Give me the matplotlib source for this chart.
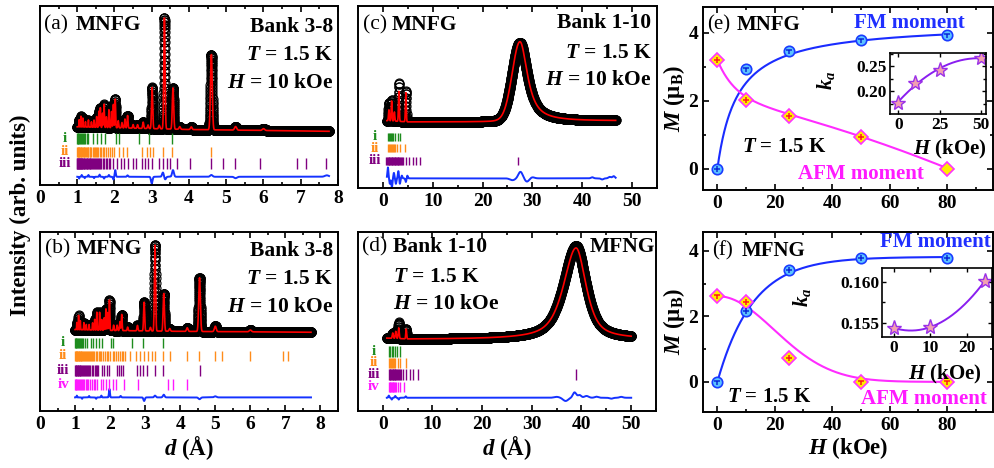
import numpy as np
import matplotlib
matplotlib.use("Agg")
import matplotlib.pyplot as plt
from matplotlib.path import Path
from matplotlib.ticker import MultipleLocator, FormatStrFormatter

plt.rcParams['font.family'] = ['Liberation Serif', 'DejaVu Serif']
plt.rcParams['font.weight'] = 'bold'
plt.rcParams['axes.labelweight'] = 'bold'
plt.rcParams['mathtext.fontset'] = 'custom'
plt.rcParams['mathtext.it'] = 'Liberation Serif:italic:bold'
plt.rcParams['mathtext.rm'] = 'Liberation Serif:bold'
plt.rcParams['mathtext.bf'] = 'Liberation Serif:bold'

# ---------------- diffraction data ----------------
# panel (a) MNFG, bank 3-8
a_bg_d = [1.0, 2.0, 4.0, 7.75]
a_bg_y = [32.5, 32.0, 31.0, 30.0]
a_peak_d = [1.05, 1.10, 1.15, 1.22, 1.30, 1.38, 1.45, 1.52, 1.58, 1.62, 1.68, 1.72, 1.78, 1.85,
            1.92, 1.97, 2.02, 2.10, 2.20, 2.28, 2.35, 2.50, 2.62, 2.77, 2.90, 3.01, 3.20, 3.34,
            3.57, 3.75, 4.06, 4.60, 5.25, 6.00]
a_peak_h = [4, 6, 5, 3, 4, 3, 4, 6, 9, 11, 8, 13, 6, 10, 9, 13, 16, 4, 3, 5, 7, 2, 2, 3.5, 2,
            23, 2, 62, 23, 1.5, 1.5, 42, 2, 1]
a_diff_d = [1.05, 1.12, 1.20, 1.30, 1.45, 1.60, 1.72, 1.85, 1.97, 2.02, 2.35, 3.00, 3.30, 3.36,
            3.57, 4.60, 5.25, 7.70]
a_diff_a = [-1, 1, -0.8, 1, -0.8, 1.2, -1, 1, -1.5, 3.7, 0.8, -3.7, 2.4, -1.5, 3.7, 1, -0.8, 0.8]
a_tick_i = [0.99, 1.01, 1.03, 1.05, 1.07, 1.09, 1.12, 1.15, 1.18, 1.21, 1.25, 1.28, 1.43, 1.52,
            1.63, 1.75, 2.04, 2.13, 2.67, 2.93, 3.54]
a_tick_ii = [1.00, 1.02, 1.03, 1.05, 1.06, 1.08, 1.10, 1.11, 1.13, 1.15, 1.17, 1.19, 1.21, 1.23,
             1.25, 1.28, 1.30, 1.33, 1.35, 1.38, 1.41, 1.44, 1.47, 1.50, 1.53, 1.57, 1.60, 1.64,
             1.68, 1.72, 1.77, 1.82, 1.87, 1.93, 1.99, 2.13, 2.23, 2.33, 2.73, 2.88, 2.96, 3.04,
             3.31, 3.55, 4.59]
a_tick_iii = [0.99, 1.00, 1.02, 1.03, 1.04, 1.06, 1.07, 1.08, 1.10, 1.11, 1.13, 1.14, 1.16, 1.18,
              1.19, 1.21, 1.23, 1.25, 1.27, 1.29, 1.31, 1.33, 1.35, 1.37, 1.40, 1.42, 1.45, 1.47,
              1.50, 1.53, 1.56, 1.59, 1.62, 1.65, 1.69, 1.72, 1.76, 1.80, 1.84, 1.88, 1.97, 2.06,
              2.17, 2.26, 2.37, 2.50, 2.59, 2.73, 2.82, 2.91, 3.00, 3.20, 3.29, 3.40, 3.49, 3.67,
              4.04, 4.59, 4.92, 5.23, 5.91, 6.89, 7.14, 7.69]

# panel (b) MFNG, bank 3-8
b_bg_d = [1.0, 2.0, 4.0, 7.72]
b_bg_y = [45.5, 45.0, 44.5, 44.0]
b_peak_d = [1.05, 1.10, 1.15, 1.25, 1.32, 1.40, 1.50, 1.56, 1.62, 1.70, 1.76, 1.83, 1.88, 1.93,
            1.98, 2.10, 2.20, 2.28, 2.33, 2.50, 2.78, 2.97, 3.15, 3.28, 3.53, 3.70, 4.20, 4.55,
            5.00, 6.00]
b_peak_h = [4, 8, 5, 4, 3, 3, 4, 6, 10, 10, 6, 7, 12, 10, 17, 3, 3, 5, 9, 2, 3, 16, 2, 48, 21,
            1.5, 2, 30, 3, 1]
b_diff_d = [1.05, 1.20, 1.40, 1.60, 1.75, 1.98, 2.30, 2.97, 3.28, 3.53, 4.55, 5.00]
b_diff_a = [1, -0.8, 0.8, -0.8, 1, 4.7, 0.8, -2, 1, 1.5, -1, 0.6]
b_tick_i = [1.00, 1.02, 1.04, 1.06, 1.08, 1.10, 1.13, 1.16, 1.20, 1.24, 1.28, 1.33, 1.45, 1.52,
            1.60, 1.69, 1.76, 2.02, 2.09, 2.63, 2.93, 3.52]
b_tick_ii = [1.00, 1.02, 1.03, 1.05, 1.06, 1.08, 1.10, 1.12, 1.14, 1.16, 1.18, 1.20, 1.22, 1.25,
             1.27, 1.30, 1.33, 1.36, 1.39, 1.42, 1.45, 1.48, 1.52, 1.55, 1.59, 1.63, 1.67, 1.71,
             1.75, 1.80, 1.85, 1.90, 1.95, 2.00, 2.07, 2.12, 2.17, 2.22, 2.28, 2.33, 2.38, 2.42,
             2.57, 2.74, 2.85, 2.97, 3.09, 3.19, 3.28, 3.52, 3.71, 4.18, 4.54, 4.99, 5.18, 5.99,
             6.94, 7.08]
b_tick_iii = [1.00, 1.02, 1.03, 1.05, 1.07, 1.09, 1.11, 1.13, 1.15, 1.17, 1.20, 1.22, 1.25, 1.28,
              1.31, 1.34, 1.37, 1.40, 1.44, 1.48, 1.52, 1.56, 1.60, 1.62, 1.66, 1.76, 1.83, 1.90,
              1.98, 2.19, 2.25, 2.32, 2.38, 2.76, 2.86, 2.95, 3.04, 3.28, 3.52, 4.56]
b_tick_iv = [1.00, 1.02, 1.04, 1.06, 1.08, 1.10, 1.13, 1.16, 1.19, 1.22, 1.26, 1.30, 1.34, 1.38,
             1.43, 1.48, 1.53, 1.58, 1.62, 1.73, 1.81, 1.88, 1.98, 2.07, 2.17, 2.40, 2.80, 3.66,
             3.80, 4.20]

# panel (c) MNFG, bank 1-10
c_bg_d = [0.8, 5.0, 24.0, 35.0, 46.7]
c_bg_y = [37.0, 36.3, 36.3, 36.6, 36.8]
c_peak_d = [1.20, 1.75, 2.30, 3.20, 4.60, 27.5]
c_obs_h = [10, 11.5, 5, 21, 17, 43.5]
c_calc_h = [6, 11, 5, 16.5, 16, 44]
c_peak_wl = [0.10, 0.10, 0.10, 0.10, 0.10, 1.85]
c_peak_wr = [0.10, 0.10, 0.10, 0.10, 0.10, 1.80]
c_peak_el = [0.0, 0.0, 0.0, 0.0, 0.0, 0.1]
c_peak_er = [0.0, 0.0, 0.0, 0.0, 0.0, 0.9]
c_diff_d = [1.0, 1.4, 1.8, 2.2, 2.6, 3.1, 3.4, 3.8, 4.6, 4.9, 26.0, 27.6, 28.9, 30.0, 42.0, 44.0,
            45.5, 46.3]
c_diff_a = [6, -3, -5, 3, -3, 4, -3, 1.5, -2, 1.5, -1, 3.6, -1.8, 0.6, 0.6, -0.6, 0.8, 1.2]
c_diff_w = [0.12, 0.12, 0.12, 0.12, 0.12, 0.12, 0.12, 0.12, 0.12, 0.12, 0.6, 0.5, 0.5, 0.5, 0.3,
            0.3, 0.3, 0.3]
c_tick_i = [1.0, 1.2, 1.4, 1.6, 1.8, 2.0, 2.5, 3.0, 3.5]
c_tick_ii = [1.0, 1.2, 1.4, 1.6, 1.8, 2.0, 2.2, 2.4, 2.9, 3.4, 4.5]
c_tick_iii = [0.7, 0.85, 1.0, 1.15, 1.3, 1.45, 1.6, 1.75, 1.9, 2.05, 2.2, 2.35, 2.5, 2.65, 2.8,
              2.95, 3.1, 3.25, 3.4, 3.6, 3.8, 4.0, 4.63, 5.3, 6.0, 6.6, 7.4, 27.2]

# panel (d) MFNG, bank 1-10
d_bg_d = [0.8, 5.0, 30.0, 50.0]
d_bg_y = [40.5, 40.0, 40.0, 40.2]
d_peak_d = [2.0, 2.6, 3.2, 4.7, 38.9]
d_obs_h = [3, 4, 9, 5.5, 52]
d_calc_h = [3, 4, 6, 5.5, 51]
d_peak_wl = [0.12, 0.12, 0.12, 0.10, 3.0]
d_peak_wr = [0.12, 0.12, 0.12, 0.10, 2.4]
d_peak_el = [0.0, 0.0, 0.0, 0.0, 0.7]
d_peak_er = [0.0, 0.0, 0.0, 0.0, 0.7]
d_diff_d = [1.2, 1.8, 2.5, 3.2, 4.6, 35.0, 36.8, 38.6, 39.6, 41.0, 43.0, 46.0, 48.0]
d_diff_a = [1.2, -1, 1, -1, 0.8, 0.5, -1.8, 3, 1.5, 1, 0.6, -0.5, 0.5]
d_diff_w = [0.12, 0.12, 0.12, 0.12, 0.12, 0.6, 0.6, 0.4, 0.4, 0.5, 0.4, 0.4, 0.4]
d_tick_i = [1.2, 1.5, 1.8, 2.1, 2.5, 2.9, 3.4]
d_tick_ii = [1.2, 1.4, 1.6, 1.8, 2.0, 2.2, 2.5, 3.0, 3.4, 4.6]
d_tick_iii = [1.2, 1.35, 1.5, 1.65, 1.8, 1.95, 2.1, 2.25, 2.4, 2.55, 2.7, 2.85, 3.0, 3.2, 3.4, 3.7,
              4.0, 4.7, 5.4, 6.0, 7.0, 38.8]
d_tick_iv = [1.2, 1.35, 1.5, 1.65, 1.8, 1.95, 2.1, 2.3, 2.5, 2.7, 3.0, 3.5, 4.2]

# ---------------- magnetic moments ----------------
H_field = [0, 10, 25, 50, 80]
e_FM = [0.0, 2.94, 3.48, 3.79, 3.94]
e_AFM = [3.21, 2.03, 1.56, 0.95, 0.0]
f_FM = [0.0, 2.16, 3.42, 3.80, 3.80]
f_AFM = [2.61, 2.45, 0.73, 0.0, 0.0]
e_ins_H = [0, 10, 25, 50]
e_ka = [0.176, 0.216, 0.242, 0.266]
f_ins_H = [0, 10, 25]
f_ka = [0.1544, 0.1545, 0.1601]

# fitted-curve parameters
e_FM_fit = dict(Ms=4.3, h0=7.0)                       # M = Ms*H/(H+h0)
e_AFM_fit = dict(a=2.107, b=-0.0182, q=-9.82e-5, c=1.093, tau=6.0)
f_FM_fit = dict(Ms=3.82, h0=12.3)                     # M = Ms*(1-exp(-H/h0))
f_AFM_fit = dict(A=2.62, h0=28.0)                     # M = A*exp(-(H/h0)^2)

# ---------------- helpers ----------------
W, Hpx = 995, 468
fig = plt.figure(figsize=(W / 100, Hpx / 100), dpi=100)

TXT = 15.5      # annotation size in diffraction panels
MTXT = 15       # annotation size in moment panels
LAB = 16.5      # axis label size
TICK = 14       # tick label size


def rect(x0, y0, x1, y1):
    return [x0 / W, 1 - y1 / Hpx, (x1 - x0) / W, (y1 - y0) / Hpx]


def profile(x, bg_d, bg_y, pos, h, wl, wr, el, er):
    y = np.interp(x, bg_d, bg_y)
    for p, hh, a, b, ea, eb in zip(pos, h, wl, wr, el, er):
        dx = x - p
        w = np.where(dx < 0, a, b)
        eta = np.where(dx < 0, ea, eb)
        t = (dx / w) ** 2
        y = y + hh * ((1 - eta) * np.exp(-np.log(2) * t) + eta / (1 + t))
    return y


def diffcurve(x, base, pos, amp, wid):
    y = np.full_like(x, base)
    for p, a, w in zip(pos, amp, wid):
        y = y + a * np.exp(-np.log(2) * ((x - p) / w) ** 2)
    return y


GREEN, ORANGE, PURPLE, MAGENTA = '#1e8c1e', '#ff8c1a', '#800080', '#ff1aff'
BLUE = '#1432ff'


def style_diffr(ax, xlim, major, minor):
    ax.set_xlim(*xlim)
    ax.set_ylim(0, 100)
    ax.set_yticks([])
    ax.xaxis.set_major_locator(MultipleLocator(major))
    ax.xaxis.set_minor_locator(MultipleLocator(minor))
    ax.tick_params(axis='x', which='both', direction='in', top=True, labelsize=TICK, width=1.2)
    ax.tick_params(axis='x', which='major', length=4)
    ax.tick_params(axis='x', which='minor', length=2.5)
    for s in ax.spines.values():
        s.set_linewidth(1.4)


def draw_rows(ax, rows, xlab):
    for ticks, (y0, y1), col, lab in rows:
        ax.vlines(ticks, y0, y1, color=col, lw=1.0)
        ax.text(xlab, (y0 + y1) / 2, lab, color=col, ha='center', va='center', fontsize=11,
                fontweight='bold')


def label_block(ax, tag, name, xt, xn, y, size=TXT):
    ax.text(xt, y, tag, transform=ax.transAxes, fontsize=size, fontweight='normal', va='center')
    ax.text(xn, y, name, transform=ax.transAxes, fontsize=size, fontweight='bold', va='center')


# ---------------- panel (a) ----------------
axA = fig.add_axes(rect(40, 6, 338, 185))
style_diffr(axA, (0, 8), 1, 0.5)
sA = [0.006 * p for p in a_peak_d]
zA = [0.0] * len(a_peak_d)
xo = np.arange(1.0, 7.76, 0.0015)
axA.plot(xo, profile(xo, a_bg_d, a_bg_y, a_peak_d, a_peak_h, sA, sA, zA, zA), 'o', ms=6.5,
         mfc='none', mec='black', mew=0.8, zorder=2)
xc = np.arange(1.0, 7.76, 0.0008)
axA.plot(xc, profile(xc, a_bg_d, a_bg_y, a_peak_d, a_peak_h, sA, sA, zA, zA), color='red',
         lw=1.2, zorder=3)
axA.plot(xc, diffcurve(xc, 4.6, a_diff_d, a_diff_a, [0.008 * p for p in a_diff_d]), color=BLUE,
         lw=1.4)
draw_rows(axA, [(a_tick_i, (22.7, 28.9), GREEN, 'i'), (a_tick_ii, (15.8, 21.1), ORANGE, 'ii'),
                (a_tick_iii, (8.8, 14.9), PURPLE, 'iii')], 0.67)
label_block(axA, '(a)', 'MNFG', 0.013, 0.12, 0.894)
axA.text(0.984, 0.884, 'Bank 3-8', transform=axA.transAxes, ha='right', va='center', fontsize=TXT)
axA.text(0.984, 0.726, '$T$ = 1.5 K', transform=axA.transAxes, ha='right', va='center', fontsize=TXT)
axA.text(0.984, 0.568, '$H$ = 10 kOe', transform=axA.transAxes, ha='right', va='center', fontsize=TXT)

# ---------------- panel (b) ----------------
axB = fig.add_axes(rect(40, 232, 338, 411))
style_diffr(axB, (0, 8.5), 1, 0.5)
sB = [0.006 * p for p in b_peak_d]
zB = [0.0] * len(b_peak_d)
xo = np.arange(1.0, 7.73, 0.0015)
axB.plot(xo, profile(xo, b_bg_d, b_bg_y, b_peak_d, b_peak_h, sB, sB, zB, zB), 'o', ms=6.5,
         mfc='none', mec='black', mew=0.8, zorder=2)
xc = np.arange(1.0, 7.73, 0.0008)
axB.plot(xc, profile(xc, b_bg_d, b_bg_y, b_peak_d, b_peak_h, sB, sB, zB, zB), color='red',
         lw=1.2, zorder=3)
axB.plot(xc, diffcurve(xc, 7.6, b_diff_d, b_diff_a, [0.008 * p for p in b_diff_d]), color=BLUE,
         lw=1.4)
draw_rows(axB, [(b_tick_i, (35.2, 40.8), GREEN, 'i'), (b_tick_ii, (27.8, 33.7), ORANGE, 'ii'),
                (b_tick_iii, (19.4, 25.5), PURPLE, 'iii'), (b_tick_iv, (11.9, 18.0), MAGENTA, 'iv')],
          0.66)
label_block(axB, '(b)', 'MFNG', 0.017, 0.122, 0.905)
axB.text(0.984, 0.895, 'Bank 3-8', transform=axB.transAxes, ha='right', va='center', fontsize=TXT)
axB.text(0.984, 0.737, '$T$ = 1.5 K', transform=axB.transAxes, ha='right', va='center', fontsize=TXT)
axB.text(0.984, 0.58, '$H$ = 10 kOe', transform=axB.transAxes, ha='right', va='center', fontsize=TXT)
axB.set_xlabel('$d$ (Å)', fontsize=LAB, labelpad=1)

# ---------------- panel (c) ----------------
axC = fig.add_axes(rect(358, 6, 657, 188))
style_diffr(axC, (-5, 55), 10, 5)
xo = np.arange(0.8, 46.71, 0.02)
axC.plot(xo, profile(xo, c_bg_d, c_bg_y, c_peak_d, c_obs_h, c_peak_wl, c_peak_wr, c_peak_el,
                     c_peak_er), 'o', ms=6.5, mfc='none', mec='black', mew=0.8, zorder=2)
xc = np.arange(0.8, 46.71, 0.005)
axC.plot(xc, profile(xc, c_bg_d, c_bg_y, c_peak_d, c_calc_h, c_peak_wl, c_peak_wr, c_peak_el,
                     c_peak_er), color='red', lw=1.2, zorder=3)
axC.plot(xc, diffcurve(xc, 5.3, c_diff_d, c_diff_a, c_diff_w), color=BLUE, lw=1.4)
draw_rows(axC, [(c_tick_i, (25.8, 30.4), GREEN, 'i'), (c_tick_ii, (19.6, 24.2), ORANGE, 'ii'),
                (c_tick_iii, (12.6, 17.2), PURPLE, 'iii')], -1.7)
label_block(axC, '(c)', 'MNFG', 0.018, 0.112, 0.896)
axC.text(0.982, 0.905, 'Bank 1-10', transform=axC.transAxes, ha='right', va='center', fontsize=TXT)
axC.text(0.982, 0.74, '$T$ = 1.5 K', transform=axC.transAxes, ha='right', va='center', fontsize=TXT)
axC.text(0.982, 0.593, '$H$ = 10 kOe', transform=axC.transAxes, ha='right', va='center', fontsize=TXT)

# ---------------- panel (d) ----------------
axD = fig.add_axes(rect(358, 232, 656, 411))
style_diffr(axD, (-5, 55), 10, 5)
xo = np.arange(0.8, 50.01, 0.02)
axD.plot(xo, profile(xo, d_bg_d, d_bg_y, d_peak_d, d_obs_h, d_peak_wl, d_peak_wr, d_peak_el,
                     d_peak_er), 'o', ms=6.5, mfc='none', mec='black', mew=0.8, zorder=2)
xc = np.arange(0.8, 50.01, 0.005)
axD.plot(xc, profile(xc, d_bg_d, d_bg_y, d_peak_d, d_calc_h, d_peak_wl, d_peak_wr, d_peak_el,
                     d_peak_er), color='red', lw=1.2, zorder=3)
axD.plot(xc, diffcurve(xc, 7.4, d_diff_d, d_diff_a, d_diff_w), color=BLUE, lw=1.4)
draw_rows(axD, [(d_tick_i, (30.3, 36.3), GREEN, 'i'), (d_tick_ii, (24.2, 29.8), ORANGE, 'ii'),
                (d_tick_iii, (17.3, 23.5), PURPLE, 'iii'), (d_tick_iv, (10.8, 16.4), MAGENTA, 'iv')],
          -1.9)
label_block(axD, '(d)', 'Bank 1-10', 0.012, 0.118, 0.915)
axD.text(0.997, 0.915, 'MFNG', transform=axD.transAxes, ha='right', va='center', fontsize=TXT)
axD.text(0.118, 0.747, '$T$ = 1.5 K', transform=axD.transAxes, ha='left', va='center', fontsize=TXT)
axD.text(0.118, 0.598, '$H$ = 10 kOe', transform=axD.transAxes, ha='left', va='center', fontsize=TXT)
axD.set_xlabel('$d$ (Å)', fontsize=LAB, labelpad=1)

fig.text(20 / W, 1 - 215 / Hpx, 'Intensity (arb. units)', rotation=90, ha='center', va='center',
         fontsize=16.5, fontweight='bold')

# ---------------- moment panels ----------------
plus_path = Path([(-0.5, 0), (0.5, 0), (0, -0.5), (0, 0.5)],
                 [Path.MOVETO, Path.LINETO, Path.MOVETO, Path.LINETO])
tee_path = Path([(-0.5, 0.15), (0.5, 0.15), (0, 0.15), (0, -0.5)],
                [Path.MOVETO, Path.LINETO, Path.MOVETO, Path.LINETO])
GLYPH = {'+': plus_path, 'T': tee_path}

e_FM_glyph = ['+', 'T', 'T', 'T', 'T']
e_AFM_glyph = ['+', '+', '+', '+', '']
f_FM_glyph = ['T', '+', '+', '+', '+']
f_AFM_glyph = ['T', '+', '+', 'T', 'T']

CIRC_FACE, CIRC_EDGE = '#5cc3ff', '#1a3cff'
DIA_FACE, DIA_EDGE = '#ffee00', '#ff33ff'
LINE_FM, LINE_AFM = '#1a2cff', '#ff2cff'


def style_moment(ax, ylim):
    ax.set_xlim(-5, 96)
    ax.set_ylim(*ylim)
    ax.xaxis.set_major_locator(MultipleLocator(20))
    ax.xaxis.set_minor_locator(MultipleLocator(10))
    ax.yaxis.set_major_locator(MultipleLocator(2))
    ax.yaxis.set_minor_locator(MultipleLocator(1))
    ax.tick_params(which='both', direction='in', top=True, right=True, labelsize=TICK, width=1.2)
    ax.tick_params(which='major', length=4)
    ax.tick_params(which='minor', length=2.5)
    for s in ax.spines.values():
        s.set_linewidth(1.4)


def draw_points(ax, H, M, face, edge, marker, ms, glyphs, gcol):
    ax.plot(H, M, linestyle='none', marker=marker, ms=ms, mfc=face, mec=edge, mew=1.2, zorder=4)
    for h, m, g in zip(H, M, glyphs):
        if g:
            ax.plot([h], [m], linestyle='none', marker=GLYPH[g], ms=ms * 0.62, mec=gcol, mfc='none',
                    mew=1.1, zorder=5)


Hs = np.linspace(0, 80, 400)

axE = fig.add_axes(rect(703, 7, 993, 190))
style_moment(axE, (-0.62, 4.76))
axE.plot(Hs, e_FM_fit['Ms'] * Hs / (Hs + e_FM_fit['h0']), color=LINE_FM, lw=1.5, zorder=3)
p = e_AFM_fit
axE.plot(Hs, p['a'] + p['b'] * Hs + p['q'] * Hs ** 2 + p['c'] * np.exp(-Hs / p['tau']),
         color=LINE_AFM, lw=1.5, zorder=3)
draw_points(axE, H_field, e_FM, CIRC_FACE, CIRC_EDGE, 'o', 7.5, e_FM_glyph, '#0a28d8')
draw_points(axE, H_field, e_AFM, DIA_FACE, DIA_EDGE, 'D', 7.5, e_AFM_glyph, '#ff1a1a')
axE.set_ylabel('$M$ (μ$_\\mathrm{B}$)', fontsize=LAB, labelpad=1)
label_block(axE, '(e)', 'MNFG', 0.013, 0.117, 0.9, size=MTXT)
axE.text(0.52, 0.914, 'FM moment', color='#1f2fff', transform=axE.transAxes, ha='left', va='center',
         fontsize=MTXT)
axE.text(0.133, 0.237, '$T$ = 1.5 K', transform=axE.transAxes, ha='left', va='center', fontsize=MTXT)
axE.text(0.328, 0.087, 'AFM moment', color='#ff1aff', transform=axE.transAxes, ha='left',
         va='center', fontsize=MTXT)

axF = fig.add_axes(rect(703, 232, 993, 412))
style_moment(axF, (-0.92, 4.58))
axF.plot(Hs, f_FM_fit['Ms'] * (1 - np.exp(-Hs / f_FM_fit['h0'])), color=LINE_FM, lw=1.5, zorder=3)
axF.plot(Hs, f_AFM_fit['A'] * np.exp(-(Hs / f_AFM_fit['h0']) ** 2), color=LINE_AFM, lw=1.5, zorder=3)
draw_points(axF, H_field, f_FM, CIRC_FACE, CIRC_EDGE, 'o', 7.5, f_FM_glyph, '#0a28d8')
draw_points(axF, H_field, f_AFM, DIA_FACE, DIA_EDGE, 'D', 7.5, f_AFM_glyph, '#ff1a1a')
axF.set_ylabel('$M$ (μ$_\\mathrm{B}$)', fontsize=LAB, labelpad=1)
axF.set_xlabel('$H$ (kOe)', fontsize=LAB, labelpad=1)
label_block(axF, '(f)', 'MFNG', 0.03, 0.134, 0.896, size=MTXT)
axF.text(0.612, 0.943, 'FM moment', color='#1f2fff', transform=axF.transAxes, ha='left', va='center',
         fontsize=MTXT)
axF.text(0.082, 0.082, '$T$ = 1.5 K', transform=axF.transAxes, ha='left', va='center', fontsize=MTXT)
axF.text(0.546, 0.072, 'AFM moment', color='#ff1aff', transform=axF.transAxes, ha='left',
         va='center', fontsize=MTXT)

# ---------------- insets ----------------
STAR_FACE, STAR_EDGE, INS_LINE = '#f2a0b0', '#9a30e8', '#8a1ef0'


def style_inset(ax, xlim, ylim, xmaj, ymaj, ymin):
    ax.set_xlim(*xlim)
    ax.set_ylim(*ylim)
    ax.xaxis.set_major_locator(MultipleLocator(xmaj))
    ax.yaxis.set_major_locator(MultipleLocator(ymaj))
    ax.yaxis.set_minor_locator(MultipleLocator(ymin))
    ax.tick_params(which='both', direction='in', top=True, right=True, labelsize=12.5, width=1.0,
                   pad=2)
    ax.tick_params(which='major', length=3)
    ax.tick_params(which='minor', length=2)
    for s in ax.spines.values():
        s.set_linewidth(1.2)


axEi = fig.add_axes(rect(890, 53, 986, 114))
style_inset(axEi, (-5, 53), (0.154, 0.276), 25, 0.05, 0.025)
cE = np.polyfit(e_ins_H, e_ka, 2)
hs = np.linspace(0, 50, 200)
axEi.plot(hs, np.polyval(cE, hs), color=INS_LINE, lw=1.4)
axEi.plot(e_ins_H, e_ka, linestyle='none', marker='*', ms=11, mfc=STAR_FACE, mec=STAR_EDGE, mew=1.0)
axEi.yaxis.set_major_formatter(FormatStrFormatter('%.2f'))
axEi.set_ylabel('$k_a$', fontsize=15)
axEi.set_xlabel('$H$ (kOe)', fontsize=15)
axEi.yaxis.set_label_coords(-0.55, 0.56)
axEi.xaxis.set_label_coords(0.625, -0.40)

axFi = fig.add_axes(rect(882, 268, 992, 337))
style_inset(axFi, (-3.3, 27), (0.1533, 0.1617), 10, 0.005, 0.0025)
cF = np.polyfit(f_ins_H, f_ka, 2)
hs = np.linspace(0, 25, 200)
axFi.plot(hs, np.polyval(cF, hs), color=INS_LINE, lw=1.4)
axFi.plot(f_ins_H, f_ka, linestyle='none', marker='*', ms=11, mfc=STAR_FACE, mec=STAR_EDGE, mew=1.0)
axFi.yaxis.set_major_formatter(FormatStrFormatter('%.3f'))
axFi.set_ylabel('$k_a$', fontsize=15)
axFi.set_xlabel('$H$ (kOe)', fontsize=15)
axFi.yaxis.set_label_coords(-0.63, 0.57)
axFi.xaxis.set_label_coords(0.573, -0.37)

fig.savefig('out.png', dpi=100)
